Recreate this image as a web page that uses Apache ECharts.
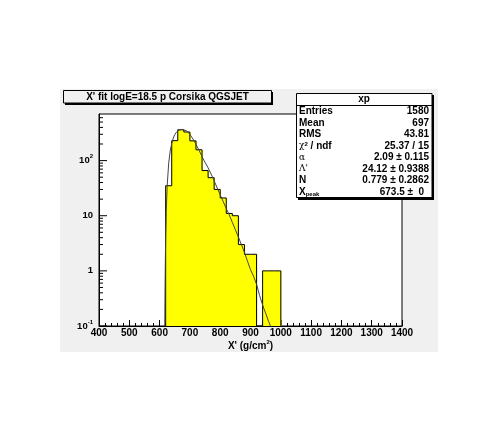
<!DOCTYPE html>
<html><head><meta charset="utf-8">
<script src="https://cdn.jsdelivr.net/npm/echarts@6/dist/echarts.min.js"></script>
<style>html,body{margin:0;padding:0;background:#fff}#c{width:485px;height:440px}</style>
</head><body><div id="c"></div>
<script>
// ---- data ----
const binStarts = [620,640,660,680,700,720,740,760,780,800,820,840,860,880,900,920,940,960,980];
const counts    = [35,230,362,330,228,157,66,49,30,21,11,10,3,2,2,0,1,1,1];
const binWidth  = 20;

const fitX = [617,618,619,620,622,625,630,635,640,645,650,655,660,665,670,675,680,690,700,710,720,730,740,750,760,770,780,790,800,810,820,830,840,850,860,870,880,890,900,910,920,930,940,950,960,966];
const fitY = [0.1,0.5,1.5,4,12,35,90,150,205,255,295,325,347,360,367,368,364,345,298,247,198,155,118,93,74,57,43,32,24,18,13.5,10.3,7.6,5.6,4.1,3.0,2.15,1.5,1.05,0.8,0.57,0.36,0.24,0.17,0.12,0.1];

const xMin = 400, xMax = 1400, xInterval = 100;
const yMin = 0.1, yMax = 700;
const yTickValues = [0.1, 1, 10, 100];
const yTickLabels = ['{b|10}{s|-1}', '{b|1}', '{b|10}', '{b|10}{s|2}'];
const yMinorValues = [0.2,0.3,0.4,0.5,0.6,0.7,0.8,0.9,2,3,4,5,6,7,8,9,20,30,40,50,60,70,80,90,200,300,400,500,600];

const titleText = "X' fit logE=18.5 p Corsika QGSJET";
const statsName = 'xp';
const statsLabels = ['{b|Entries}', '{b|Mean}', '{b|RMS}', '{g|\u03c7}{sup|2}{b| / ndf}', '{g|\u03b1}', '{g|\u039b\'}', '{b|N}', '{b|X}{sub|peak}'];
const statsValues = ['1580', '697', '43.81', '25.37 / 15', '2.09 \u00b1 0.115', '24.12 \u00b1 0.9388', '0.779 \u00b1 0.2862', ''];
const xpeakValue = '673.5 \u00b1', xpeakErr = '0';

// ---- derived tables ----
const barData = binStarts.map((s, i) => [s, s + binWidth, counts[i]]).filter(d => d[2] > 0);
const outline = [[binStarts[0], yMin]];
binStarts.forEach((s, i) => {
  const v = counts[i] > 0 ? counts[i] : yMin;
  outline.push([s, v], [s + binWidth, v]);
});
outline.push([binStarts[binStarts.length - 1] + binWidth, yMin]);
const fitData = fitX.map((x, i) => [x, fitY[i]]);

const FONT = 'Liberation Sans';
const richBase = {
  b: {fontFamily: FONT, fontWeight: 'bold', fontSize: 9.5, color: '#000', lineHeight: 14},
  s: {fontFamily: FONT, fontWeight: 'bold', fontSize: 6, color: '#000', verticalAlign: 'top', lineHeight: 8}
};

function tickSeries(values, len) {
  return {
    type: 'custom', coordinateSystem: 'cartesian2d', silent: true, z: 6,
    data: values.map(v => [xMin, v]),
    renderItem(params, api) {
      const p = api.coord([api.value(0), api.value(1)]);
      return {type: 'line', shape: {x1: p[0], y1: p[1], x2: p[0] + len, y2: p[1]},
        style: {stroke: '#000', lineWidth: 1}};
    }
  };
}

const graphics = [
  {type: 'rect', z: -10, silent: true, shape: {x: 60, y: 89, width: 378, height: 263}, style: {fill: '#f0f0f0'}},
  // title box
  {type: 'rect', z: 100, shape: {x: 65, y: 92, width: 208, height: 13}, style: {fill: '#000'}},
  {type: 'rect', z: 101, shape: {x: 63.5, y: 90.5, width: 208, height: 12.5}, style: {fill: '#f0f0f0', stroke: '#000', lineWidth: 1}},
  {type: 'text', z: 102, x: 167.5, y: 97, style: {text: titleText, fontFamily: FONT, fontWeight: 'bold', fontSize: 10, fill: '#000', align: 'center', verticalAlign: 'middle'}},
  // stats box
  {type: 'rect', z: 100, shape: {x: 298, y: 95, width: 136, height: 105}, style: {fill: '#000'}},
  {type: 'rect', z: 101, shape: {x: 296.5, y: 93.5, width: 135.5, height: 104}, style: {fill: '#ffffff', stroke: '#000', lineWidth: 1}},
  {type: 'line', z: 102, shape: {x1: 296.5, y1: 105.5, x2: 432, y2: 105.5}, style: {stroke: '#000', lineWidth: 1}},
  {type: 'text', z: 102, x: 364, y: 99.5, style: {text: statsName, fontFamily: FONT, fontWeight: 'bold', fontSize: 10, fill: '#000', align: 'center', verticalAlign: 'middle'}}
];
const richStats = {
  b: {fontFamily: FONT, fontWeight: 'bold', fontSize: 10, fill: '#000', color: '#000'},
  g: {fontFamily: 'DejaVu Serif', fontSize: 9, fill: '#000', color: '#000'},
  sup: {fontFamily: FONT, fontWeight: 'bold', fontSize: 6, verticalAlign: 'top', lineHeight: 7, color: '#000'},
  sub: {fontFamily: FONT, fontWeight: 'bold', fontSize: 6, verticalAlign: 'bottom', lineHeight: 7, color: '#000'}
};
statsLabels.forEach((lab, i) => {
  const y = 111.3 + i * 11.55;
  graphics.push({type: 'text', z: 102, x: 299, y: y, style: {text: lab, rich: richStats, align: 'left', verticalAlign: 'middle'}});
  if (statsValues[i]) {
    graphics.push({type: 'text', z: 102, x: 429, y: y, style: {text: statsValues[i], fontFamily: FONT, fontWeight: 'bold', fontSize: 10, fill: '#000', align: 'right', verticalAlign: 'middle'}});
  }
});
{
  const y = 111.3 + 7 * 11.55;
  graphics.push({type: 'text', z: 102, x: 413, y: y, style: {text: xpeakValue, fontFamily: FONT, fontWeight: 'bold', fontSize: 10, fill: '#000', align: 'right', verticalAlign: 'middle'}});
  graphics.push({type: 'text', z: 102, x: 424, y: y, style: {text: xpeakErr, fontFamily: FONT, fontWeight: 'bold', fontSize: 10, fill: '#000', align: 'right', verticalAlign: 'middle'}});
}

const chart = echarts.init(document.getElementById('c'), null, {renderer: 'canvas'});
chart.setOption({
  animation: false,
  backgroundColor: '#ffffff',
  grid: {left: 99, right: 83, top: 114, bottom: 114, show: true, backgroundColor: '#ffffff', borderColor: '#000', borderWidth: 1, containLabel: false},
  xAxis: {
    type: 'value', min: xMin, max: xMax, interval: xInterval,
    name: "{b|X' (g/cm}{s|2}{b|)}", nameLocation: 'middle', nameGap: 8,
    nameTextStyle: {rich: {
      b: {fontFamily: FONT, fontWeight: 'bold', fontSize: 10, color: '#000', lineHeight: 14},
      s: {fontFamily: FONT, fontWeight: 'bold', fontSize: 6, color: '#000', verticalAlign: 'top', lineHeight: 8}
    }},
    axisLine: {show: true, lineStyle: {color: '#000', width: 1}},
    axisTick: {show: true, inside: true, length: 6, lineStyle: {color: '#000', width: 1}},
    minorTick: {show: true, splitNumber: 5, length: 3, lineStyle: {color: '#000', width: 1}},
    splitLine: {show: false}, minorSplitLine: {show: false},
    axisLabel: {margin: 2, fontFamily: FONT, fontWeight: 'bold', fontSize: 10, color: '#000',
      formatter: v => String(v)}
  },
  yAxis: {
    type: 'log', logBase: 10, min: yMin, max: yMax, splitNumber: 4,
    axisLine: {show: true, lineStyle: {color: '#000', width: 1}},
    axisTick: {show: false}, minorTick: {show: false},
    splitLine: {show: false},
    axisLabel: {
      margin: 6, showMaxLabel: false, showMinLabel: true,
      formatter: function (v) {
        const e = Math.round(Math.log10(v));
        const idx = yTickValues.findIndex(t => Math.round(Math.log10(t)) === e);
        return idx >= 0 ? yTickLabels[idx] : '';
      },
      rich: richBase
    }
  },
  graphic: graphics,
  series: [
    {
      type: 'custom', coordinateSystem: 'cartesian2d', z: 2, silent: true,
      data: barData, encode: {x: [0, 1], y: 2},
      renderItem(params, api) {
        const lo = api.value(0), hi = api.value(1), v = api.value(2);
        const p0 = api.coord([lo, yMin]);
        const p1 = api.coord([hi, v]);
        return {type: 'rect', shape: {x: p0[0], y: p1[1], width: p1[0] - p0[0] + 0.8, height: p0[1] - p1[1]},
          style: {fill: '#ffff00'}};
      }
    },
    {type: 'line', data: outline, symbol: 'none', z: 3, silent: true,
     lineStyle: {color: '#000', width: 1}},
    {type: 'line', data: fitData, symbol: 'none', z: 4, silent: true, clip: true,
     lineStyle: {color: '#444', width: 1}},
    tickSeries(yTickValues, 8),
    tickSeries(yMinorValues, 4)
  ]
});
</script>
</body></html>
